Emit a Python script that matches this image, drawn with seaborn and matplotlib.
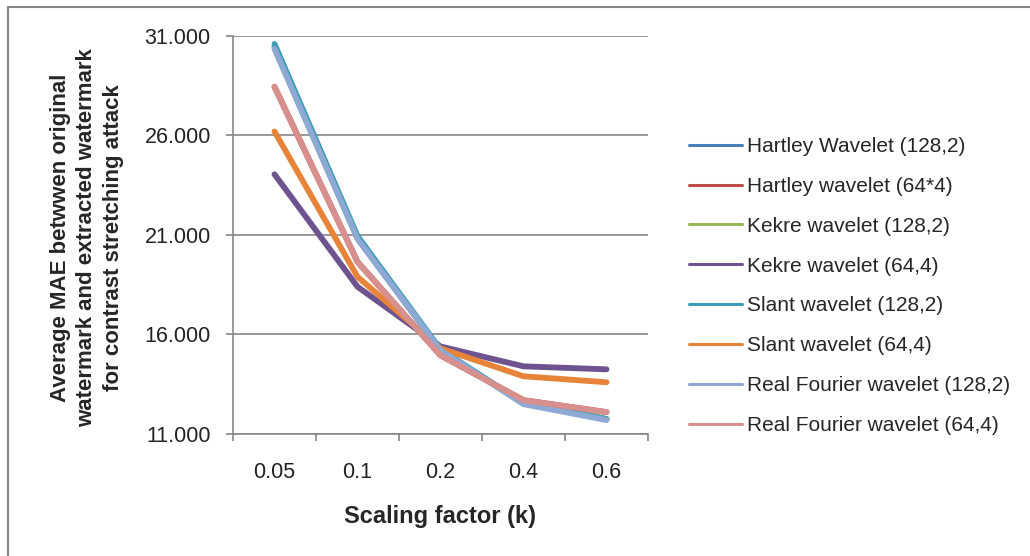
import matplotlib
matplotlib.use("Agg")
import matplotlib.pyplot as plt
import matplotlib.patches as mpatches
import seaborn as sns
import pandas as pd
import numpy as np

# scaling factors on the x axis
scaling_factors = ["0.05", "0.1", "0.2", "0.4", "0.6"]

# average MAE per wavelet
hartley_128_2 = [30.45, 20.85, 15.20, 12.55, 11.75]
hartley_64_4 = [28.45, 19.65, 14.95, 12.70, 12.10]
kekre_128_2 = [30.45, 20.85, 15.20, 12.55, 11.75]
kekre_64_4 = [24.05, 18.40, 15.40, 14.40, 14.25]
slant_128_2 = [30.60, 20.95, 15.25, 12.55, 11.75]
slant_64_4 = [26.20, 18.90, 15.30, 13.90, 13.60]
real_fourier_128_2 = [30.35, 20.80, 15.20, 12.50, 11.70]
real_fourier_64_4 = [28.45, 19.65, 14.95, 12.70, 12.10]

series_names = [
    "Hartley Wavelet (128,2)",
    "Hartley wavelet (64*4)",
    "Kekre wavelet (128,2)",
    "Kekre wavelet (64,4)",
    "Slant wavelet (128,2)",
    "Slant wavelet (64,4)",
    "Real Fourier wavelet (128,2)",
    "Real Fourier wavelet (64,4)",
]
series_values = [
    hartley_128_2, hartley_64_4, kekre_128_2, kekre_64_4,
    slant_128_2, slant_64_4, real_fourier_128_2, real_fourier_64_4,
]
colors = [
    "#4A7EBB", "#BE4B48", "#98B954", "#6E5391",
    "#3D9DB6", "#E8843A", "#8EA9D3", "#D8908E",
]

y_ticks = [11, 16, 21, 26, 31]

# long-form table for seaborn
rows = []
for name, values in zip(series_names, series_values):
    for pos, value in enumerate(values):
        rows.append({"pos": pos, "mae": value, "series": name})
df = pd.DataFrame(rows)

sns.set_theme(style="white")
plt.rcParams["font.family"] = ["Liberation Sans", "DejaVu Sans"]

fig = plt.figure(figsize=(10.30, 5.56), dpi=100)
ax = fig.add_axes([233 / 1030, 1 - 434 / 556, 415 / 1030, 398 / 556])

sns.lineplot(
    data=df,
    x="pos",
    y="mae",
    hue="series",
    hue_order=series_names,
    palette=colors,
    sort=False,
    linewidth=4.2,
    solid_capstyle="round",
    solid_joinstyle="round",
    legend=False,
    ax=ax,
)

# axes and grid
ax.set_xlim(-0.5, len(scaling_factors) - 0.5)
ax.set_ylim(y_ticks[0], y_ticks[-1])
ax.set_yticks(y_ticks)
ax.set_yticklabels([f"{t}.000" for t in y_ticks])
ax.yaxis.grid(True, color="#868686", linewidth=1.2)
ax.set_axisbelow(True)

# category boundaries as ticks, labels in the middle
ax.set_xticks(np.arange(-0.5, len(scaling_factors), 1.0))
ax.set_xticklabels([])
ax.set_xticks(np.arange(len(scaling_factors)), minor=True)
ax.set_xticklabels(scaling_factors, minor=True)
ax.tick_params(axis="x", which="major", length=5, width=1.2, color="#868686", direction="out", bottom=True)
ax.tick_params(axis="x", which="minor", length=0, pad=20, labelsize=15.5, labelcolor="#222222")
ax.tick_params(axis="y", length=5, width=1.2, color="#868686", direction="out", left=True, pad=11,
               labelsize=15.5, labelcolor="#222222")

for side in ["top", "right"]:
    ax.spines[side].set_visible(False)
for side in ["left", "bottom"]:
    ax.spines[side].set_color("#868686")
    ax.spines[side].set_linewidth(1.2)

ax.set_xlabel("")
ax.set_ylabel("")
fig.text(440 / 1030, 1 - 517 / 556, "Scaling factor (k)", ha="center", va="center",
         fontsize=17, fontweight="bold")
fig.text(87 / 1030, 1 - 238 / 556,
         "Average MAE betwwen original\nwatermark and extracted watermark\nfor contrast stretching attack",
         ha="center", va="center", rotation=90, fontsize=16, fontweight="bold",
         multialignment="center", linespacing=1.35)

# legend
handles = [plt.Line2D([], [], color=c, linewidth=2.2) for c in colors]
fig.legend(
    handles, series_names,
    loc="upper left",
    bbox_to_anchor=(689 / 1030, 1 - 137 / 556),
    frameon=False,
    fontsize=15,
    handlelength=2.55,
    handletextpad=0.25,
    labelspacing=1.0,
    borderpad=0,
    borderaxespad=0,
)

# outer chart frame (top and left edges visible)
fig.patches.append(mpatches.Rectangle(
    (8 / 1030, -0.1), 1.2, 1 - 7 / 556 + 0.1,
    transform=fig.transFigure, fill=False, edgecolor="#868686", linewidth=1.5,
))

fig.savefig("out.png", dpi=100)
